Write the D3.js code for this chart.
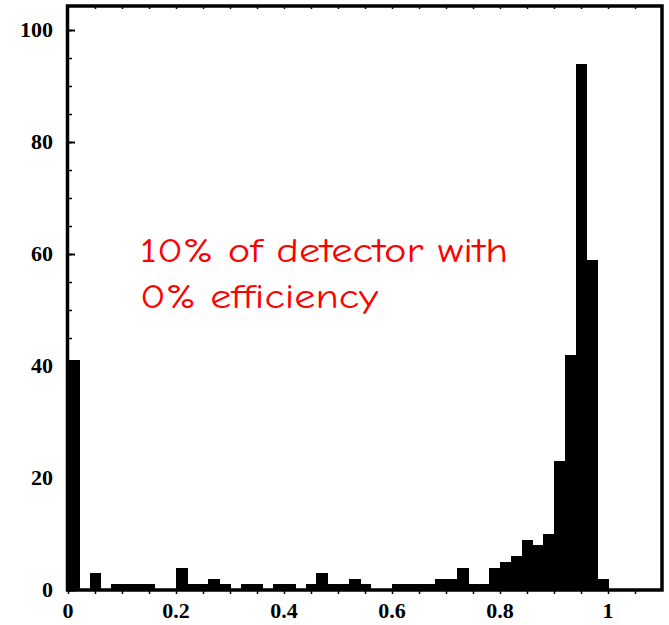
<!DOCTYPE html>
<html>
<head>
<meta charset="utf-8">
<script src="https://cdn.jsdelivr.net/npm/d3@7"></script>
<style>
  html, body { margin: 0; padding: 0; background: #fff; }
  svg { display: block; }
</style>
</head>
<body>
<svg id="chart" width="669" height="625"></svg>
<script>
// ---- data ----
const binWidth = 0.02;
const binStarts = [0.00,0.02,0.04,0.06,0.08,0.10,0.12,0.14,0.16,0.18,
                   0.20,0.22,0.24,0.26,0.28,0.30,0.32,0.34,0.36,0.38,
                   0.40,0.42,0.44,0.46,0.48,0.50,0.52,0.54,0.56,0.58,
                   0.60,0.62,0.64,0.66,0.68,0.70,0.72,0.74,0.76,0.78,
                   0.80,0.82,0.84,0.86,0.88,0.90,0.92,0.94,0.96,0.98];
const counts    = [41,0,3,0,1,1,1,1,0,0,
                   4,1,1,2,1,0,1,1,0,1,
                   1,0,1,3,1,1,2,1,0,0,
                   1,1,1,1,2,2,4,1,1,4,
                   5,6,9,8,10,23,42,94,59,2];
const xTickValues = [0, 0.2, 0.4, 0.6, 0.8, 1];
const xTickLabels = ["0", "0.2", "0.4", "0.6", "0.8", "1"];
const yTickValues = [0, 20, 40, 60, 80, 100];
const yTickLabels = ["0", "20", "40", "60", "80", "100"];
const noteLines = ["10% of detector with", "0% efficiency"];

// ---- layout ----
const svg = d3.select("#chart");
const x = d3.scaleLinear().domain([0, 1.1]).range([68, 662]);
const y = d3.scaleLinear().domain([0, 100]).range([590, 30]);
const yTop = y.invert(6);

const bins = binStarts.map((s, i) => ({x0: s, x1: s + binWidth, v: counts[i]}));

// bars
svg.append("g").attr("shape-rendering", "crispEdges")
  .selectAll("rect").data(bins.filter(d => d.v > 0)).join("rect")
  .attr("x", d => Math.round(x(d.x0)))
  .attr("width", d => Math.round(x(d.x1)) - Math.round(x(d.x0)) + 1)
  .attr("y", d => Math.round(y(d.v)))
  .attr("height", d => y(0) - Math.round(y(d.v)))
  .attr("fill", "#000");

// y axis (left), ticks inward
const yAxis = d3.axisRight(y).tickValues(yTickValues).tickFormat("").tickSize(7).tickSizeOuter(0);
svg.append("g").attr("transform", `translate(${x(0)},0)`).call(yAxis)
  .call(g => g.select(".domain").remove())
  .call(g => g.selectAll("line").attr("stroke", "#000").attr("stroke-width", 2));
const yMinor = d3.axisRight(y).tickValues(d3.range(0, 105, 5)).tickFormat("").tickSize(4).tickSizeOuter(0);
svg.append("g").attr("transform", `translate(${x(0)},0)`).call(yMinor)
  .call(g => g.select(".domain").remove())
  .call(g => g.selectAll("line").attr("stroke", "#000").attr("stroke-width", 1.5));

// y labels
svg.append("g").selectAll("text").data(yTickValues).join("text")
  .attr("x", 53).attr("y", d => y(d) + 7)
  .attr("text-anchor", "end")
  .attr("font-family", "'Liberation Serif', 'Times New Roman', serif")
  .attr("font-size", 22)
  .attr("font-weight", "bold")
  .text((d, i) => yTickLabels[i]);

// x axis minor ticks (outside, below), top ticks inward
const xMinor = d3.axisBottom(x).tickValues(d3.range(0, 1.1, 0.05)).tickFormat("").tickSize(3).tickSizeOuter(0);
svg.append("g").attr("transform", `translate(0,${y(0) + 1})`).call(xMinor)
  .call(g => g.select(".domain").remove())
  .call(g => g.selectAll("line").attr("stroke", "#000").attr("stroke-width", 1.5));
const xTop = d3.axisBottom(x).tickValues(d3.range(0.05, 1.1, 0.05)).tickFormat("").tickSize(3).tickSizeOuter(0);
svg.append("g").attr("transform", `translate(0,${y(yTop)})`).call(xTop)
  .call(g => g.select(".domain").remove())
  .call(g => g.selectAll("line").attr("stroke", "#000").attr("stroke-width", 1.5));

// x labels
svg.append("g").selectAll("text").data(xTickValues).join("text")
  .attr("x", d => x(d)).attr("y", 618)
  .attr("text-anchor", "middle")
  .attr("font-family", "'Liberation Serif', 'Times New Roman', serif")
  .attr("font-size", 22)
  .attr("font-weight", "bold")
  .text((d, i) => xTickLabels[i]);

// frame
svg.append("rect")
  .attr("x", x(0) - 0.5).attr("y", y(yTop))
  .attr("width", x(1.1) - x(0) + 0.5).attr("height", y(0) - y(yTop))
  .attr("fill", "none").attr("stroke", "#000").attr("stroke-width", 3.5);

// annotation
const noteWidths = [368, 238];
const noteBase = [262, 308];
noteLines.forEach((t, i) => {
  svg.append("text")
    .attr("x", 140).attr("y", noteBase[i])
    .attr("font-family", "'Comic Sans MS', 'Comic Neue', 'DejaVu Sans', sans-serif")
    .attr("font-size", 34)
    .attr("fill", "#ff0000")
    .attr("textLength", noteWidths[i])
    .attr("lengthAdjust", "spacingAndGlyphs")
    .text(t);
});
</script>
</body>
</html>
